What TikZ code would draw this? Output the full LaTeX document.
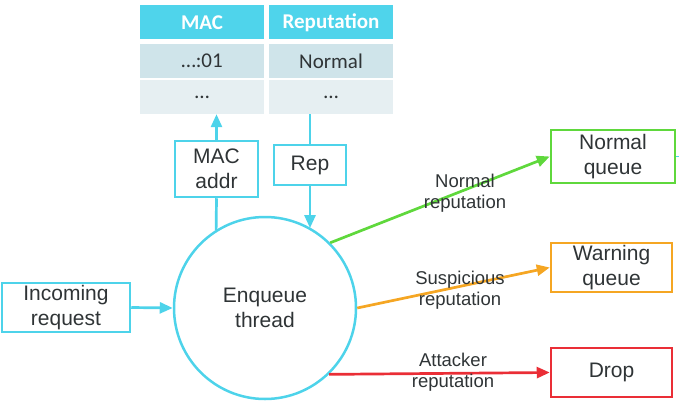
\documentclass[tikz,border=0pt]{standalone}
\usepackage{fontspec}
\setmainfont{Liberation Sans}
\newfontfamily\tabfont{Carlito}
\usetikzlibrary{positioning,arrows.meta}
\definecolor{textcol}{HTML}{2F3436}
\definecolor{linecol}{HTML}{4DD3EA}
\definecolor{headcol}{HTML}{4FD4EB}
\definecolor{row1col}{HTML}{CFE4EA}
\definecolor{row2col}{HTML}{E6EFF2}
\definecolor{normcol}{HTML}{5FD83C}
\definecolor{warncol}{HTML}{F5A623}
\definecolor{dropcol}{HTML}{EA2E36}
\begin{document}
\begin{tikzpicture}[x=1pt,y=-1pt,
	cell/.style={inner sep=0pt,minimum width=124pt,minimum height=34pt,font=\tabfont\fontsize{21}{24}\selectfont,text=textcol},
	box/.style={draw=#1,line width=2.5pt,inner sep=0pt,align=center,font=\fontsize{21}{25}\selectfont,text=textcol},
	flow/.style={draw=#1,line width=2.7pt,-{Triangle[length=13pt,width=11pt]}},
	lbl/.style={align=center,font=\fontsize{18.5}{21}\selectfont,text=textcol}]
\useasboundingbox (0,0) rectangle (679,404);
% table
\foreach \x/\head/\first [count=\c] in {
	202/MAC/{\ldots:01},
	331/Reputation/Normal%
	}{
	\node[cell,fill=headcol,text=white,font=\tabfont\bfseries\fontsize{21}{24}\selectfont] (head\c) at (\x,22.5) {\head};
	\node[cell,fill=row1col] (rowa\c) at (\x,61) {\first};
	\node[cell,fill=row2col] (rowb\c) at (\x,97) {\ldots};
	}
% boxes
\node[circle,draw=linecol,line width=2.5pt,minimum size=182pt,inner sep=0pt,align=center,font=\fontsize{21}{25}\selectfont,text=textcol] (thread) at (265,308) {Enqueue\\thread};
\node[box=linecol,minimum width=83pt,minimum height=56pt] (macbox) at (216.5,169) {MAC\\addr};
\node[box=linecol,minimum width=72pt,minimum height=40pt] (repbox) at (310,165) {Rep};
\node[box=linecol,minimum width=128pt,minimum height=49pt] (incoming) at (66,307.5) {Incoming\\request};
\node[box=normcol,minimum width=124pt,minimum height=53pt] (normal) at (613,156.5) {Normal\\queue};
\node[box=warncol,minimum width=121pt,minimum height=49pt] (warning) at (611.5,267.5) {Warning\\queue};
\node[box=dropcol,minimum width=121pt,minimum height=49pt] (drop) at (611.5,372.5) {Drop};
% arrows
\draw[linecol,line width=2.7pt] (thread.122) -- (macbox.south);
\draw[flow=linecol] (macbox.north) -- (macbox.north |- rowb1.south);
\draw[linecol,line width=2.7pt] (repbox.north |- rowb2.south) -- (repbox.north);
\draw[flow=linecol] (repbox.south) -- (repbox.south |- thread.60);
\draw[flow=linecol] (incoming.east) -- (thread.west);
\draw[flow=normcol] (thread.45) -- (normal.west);
\draw[flow=warncol] (thread.east) -- (warning.west);
\draw[flow=dropcol] (thread.-46) -- (drop.west);
\draw[linecol,line width=1.5pt] (normal.east) -- ++(6,0);
% labels
\node[lbl] (normlbl) at (465,193) {Normal\\reputation};
\node[lbl] (susplbl) at (460,290) {Suspicious\\reputation};
\node[lbl] (attlbl) at (453,372) {Attacker\\reputation};
\end{tikzpicture}
\end{document}
